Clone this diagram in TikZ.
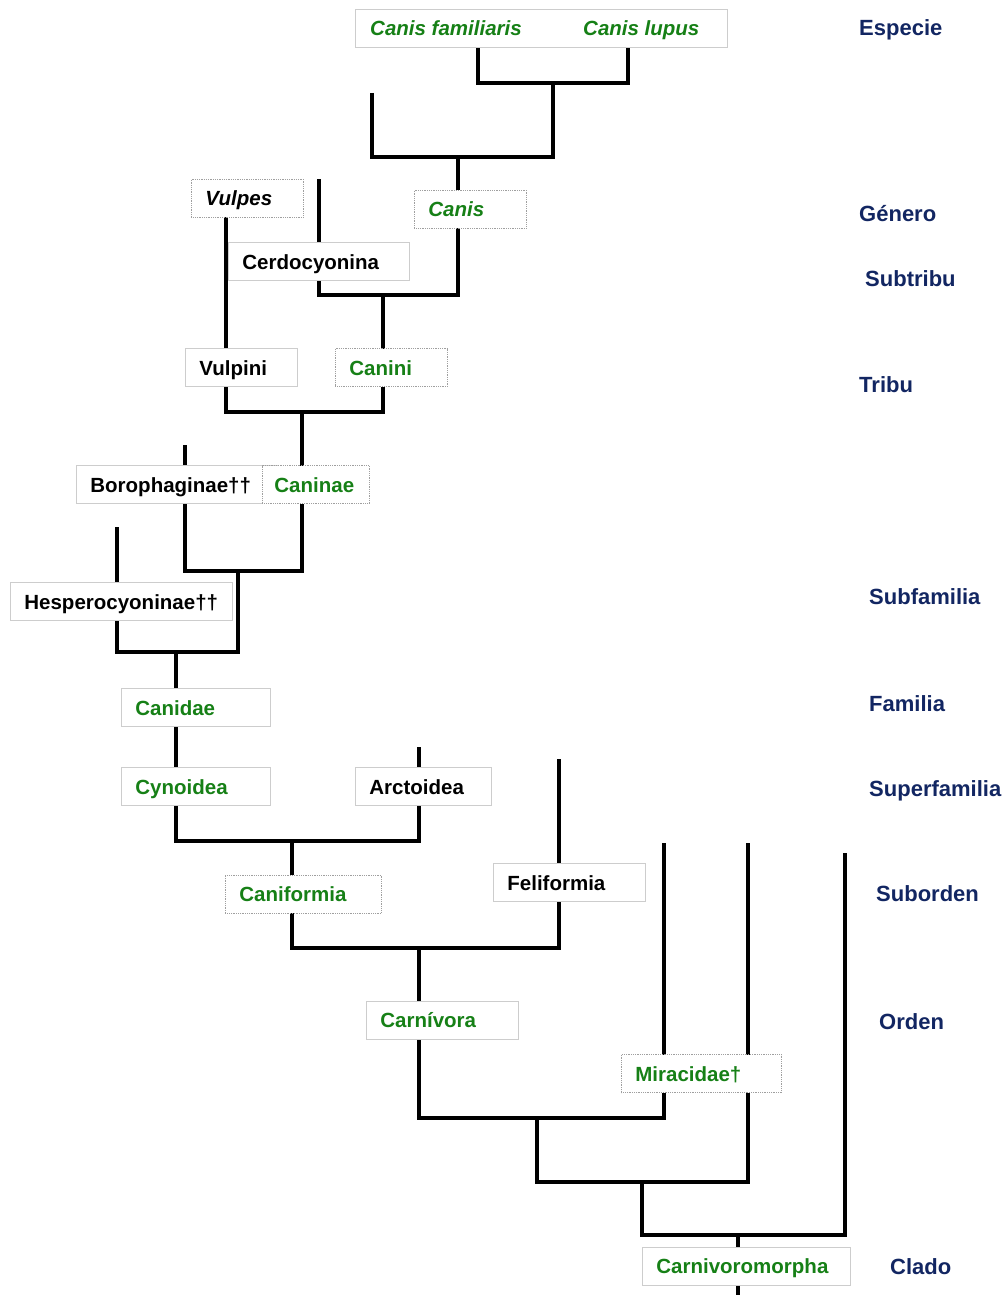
\documentclass[tikz,border=0pt]{standalone}
\usepackage{fontspec}
\setmainfont{Liberation Sans}
\usepackage{xcolor}
\usepackage{tikz}
\usetikzlibrary{positioning, backgrounds}
\definecolor{taxGreen}{RGB}{22, 128, 22}
\definecolor{rankNavy}{RGB}{18, 38, 98}
\definecolor{boxGray}{RGB}{205, 205, 205}

\begin{document}
\begin{tikzpicture}[x=1pt, y=-1pt,
        font=\fontsize{20.5}{24}\selectfont\bfseries,
        b/.style={rectangle, draw=boxGray, line width=0.8pt, fill=white, anchor=west,
            inner xsep=14pt, inner ysep=0pt, minimum height=38pt, align=left, text width=#1,
            text height=15pt, text depth=0pt},
        bd/.style={b=#1, densely dotted, draw=gray!75},
        tg/.style={text=taxGreen},
        rank/.style={anchor=west, inner sep=0pt, text height=16pt, text depth=0pt,
            text=rankNavy, font=\fontsize{22}{26}\selectfont\bfseries},
        br/.style={line width=3.4pt, black, line join=miter}
    ]
    \useasboundingbox (0,0) rectangle (1006,1295);
    % taxa
    \node[b=344pt] (spec) at (355,28.5) {};
    \node[tg, anchor=west, inner sep=0pt, text height=15pt, text depth=0pt] (cfam) at (370,28.5) {\itshape Canis familiaris};
    \node[tg, anchor=west, inner sep=0pt, text height=15pt, text depth=0pt] (clup) at (583,28.5) {\itshape Canis lupus};
    \node[bd=84pt] (vulpes) at (191,198) {\itshape Vulpes};
    \node[bd=84pt, tg] (canis) at (414,209) {\itshape Canis};
    \node[b=153pt] (cerdo) at (228,261.5) {Cerdocyonina};
    \node[b=84pt] (vulpini) at (185,367.5) {Vulpini};
    \node[bd=84pt, tg] (canini) at (335,367.5) {Canini};
    \node[b=174pt] (boro) at (76,484.5) {Borophaginae††};
    \node[bd=83pt, tg, inner xsep=12pt] (caninae) at (262,484.5) {Caninae};
    \node[b=194pt] (hesp) at (10,601.5) {Hesperocyoninae††};
    \node[b=121pt, tg] (canidae) at (121,707.5) {Canidae};
    \node[b=121pt, tg] (cyno) at (121,786.5) {Cynoidea};
    \node[b=108pt] (arcto) at (355,786.5) {Arctoidea};
    \node[bd=128pt, tg] (canif) at (225,894) {Caniformia};
    \node[b=124pt] (felif) at (493,882.5) {Feliformia};
    \node[b=124pt, tg] (carn) at (366,1020) {Carnívora};
    \node[bd=132pt, tg] (mirac) at (621,1073.5) {Miracidae†};
    \node[b=180pt, tg] (cmorph) at (642,1266) {Carnivoromorpha};
    % ranks
    \node[rank] (rEsp) at (859,28) {Especie};
    \node[rank] (rGen) at (859,213) {Género};
    \node[rank] (rSubt) at (865,278) {Subtribu};
    \node[rank] (rTri) at (859,384) {Tribu};
    \node[rank] (rSubf) at (869,596) {Subfamilia};
    \node[rank] (rFam) at (869,703) {Familia};
    \node[rank] (rSupf) at (869,788) {Superfamilia};
    \node[rank] (rSubo) at (876,893) {Suborden};
    \node[rank] (rOrd) at (879,1021) {Orden};
    \node[rank] (rCla) at (890,1266) {Clado};
    % branch ends and joints
    \coordinate (s1) at (478,47);
    \coordinate (s2) at (628,47);
    \coordinate (j1) at (553,83);
    \coordinate (t2) at (372,93);
    \coordinate (j2) at (458,157);
    \coordinate (t4) at (319,179);
    \coordinate (j3) at (383,295);
    \coordinate (t5) at (226,217);
    \coordinate (j4) at (302,412);
    \coordinate (t6) at (185,445);
    \coordinate (j5) at (238,571);
    \coordinate (t7) at (117,527);
    \coordinate (j6) at (176,652);
    \coordinate (t8) at (419,747);
    \coordinate (j7) at (292,841);
    \coordinate (t9) at (559,759);
    \coordinate (j8) at (419,948);
    \coordinate (t10) at (664,843);
    \coordinate (j9) at (537,1118);
    \coordinate (t11) at (748,843);
    \coordinate (j10) at (642,1182);
    \coordinate (t12) at (845,853);
    \coordinate (j11) at (738,1235);
    \coordinate (root) at (738,1295);
    \begin{scope}[on background layer]
        \draw[br] (s1) |- (j1) -| (s2);
        \draw[br] (t2) |- (j2) -| (j1);
        \draw[br] (t4) |- (j3) -| (j2);
        \draw[br] (t5) |- (j4) -| (j3);
        \draw[br] (t6) |- (j5) -| (j4);
        \draw[br] (t7) |- (j6) -| (j5);
        \draw[br] (j6) |- (j7) -| (t8);
        \draw[br] (j7) |- (j8) -| (t9);
        \draw[br] (j8) |- (j9) -| (t10);
        \draw[br] (j9) |- (j10) -| (t11);
        \draw[br] (j10) |- (j11) -| (t12);
        \draw[br] (j11) -- (root);
    \end{scope}
\end{tikzpicture}
\end{document}
